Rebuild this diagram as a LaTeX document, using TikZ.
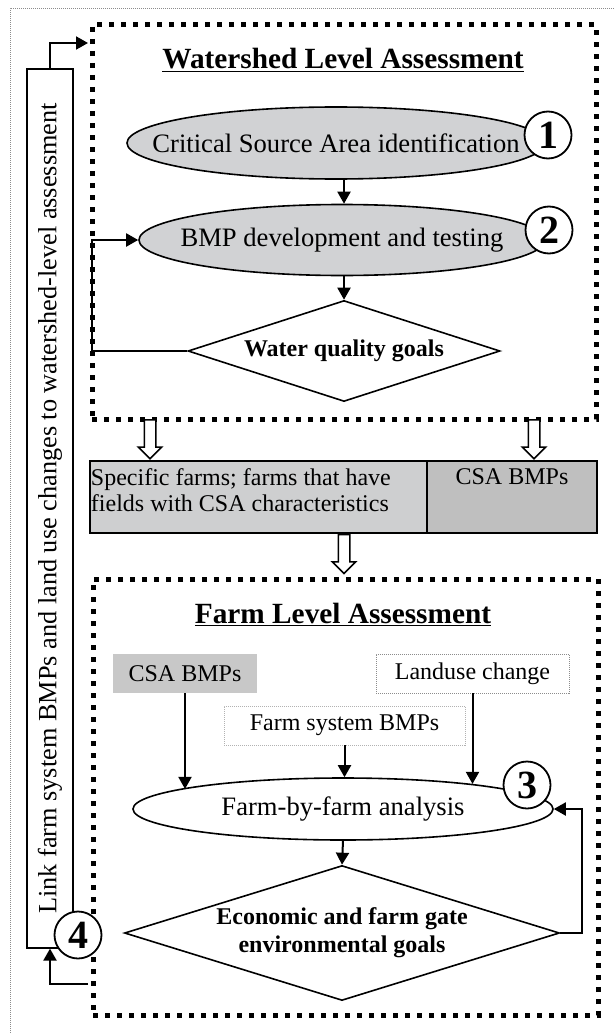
\documentclass[tikz,border=0pt]{standalone}
\usepackage{fontspec}
\setmainfont{Liberation Serif}
\usepackage{graphicx}
\usepackage{tikz}
\usetikzlibrary{arrows.meta,calc,shapes.geometric,shapes.arrows}
\definecolor{ellgray}{RGB}{209,210,212}
\definecolor{bandlight}{RGB}{206,207,208}
\definecolor{banddark}{RGB}{191,191,191}
\definecolor{csagray}{RGB}{200,200,200}

\begin{document}
\begin{tikzpicture}[x=1pt, y=-1pt,
  outer/.style={draw=black!45, line width=0.6pt, dash pattern=on 1pt off 1pt},
  level/.style={draw, line width=5pt, dash pattern=on 5pt off 7pt, inner sep=0pt, outer sep=0pt},
  oval/.style={ellipse, draw, line width=1.6pt, inner xsep=-60pt, inner ysep=0pt, font=\fontsize{26.6}{30}\selectfont},
  goal/.style={diamond, draw, line width=1.6pt, inner sep=0pt, align=center, font=\bfseries\fontsize{24}{28}\selectfont},
  num/.style={circle, draw, fill=white, line width=1.8pt, minimum size=47pt, inner sep=0pt, font=\bfseries\fontsize{40}{40}\selectfont},
  title/.style={font=\bfseries\fontsize{29.3}{34}\selectfont},
  inbox/.style={minimum height=39pt, inner sep=0pt, font=\fontsize{24}{28}\selectfont},
  celltext/.style={inner xsep=1.5pt, inner ysep=8pt, align=left, font=\fontsize{24}{26}\selectfont},
  cell/.style={draw, line width=1.5pt, minimum height=72pt, inner sep=0pt},
  linkbox/.style={draw, line width=1.2pt, minimum width=46pt, minimum height=879pt, inner sep=0pt, font=\fontsize{26.3}{30}\selectfont},
  arr/.style={-{Triangle[length=12pt, width=13pt]}, line width=2pt},
  hollow/.style={single arrow, draw, line width=1.5pt, fill=white, rotate=-90, anchor=tail, minimum height=39pt, minimum width=22pt, single arrow head extend=6pt, inner sep=5pt}]
\useasboundingbox (0,0) rectangle (615,1033);
\draw[outer] (10,1033) -- (10,8) -- (615,8);

% watershed level
\node[level, minimum width=504pt, minimum height=394pt] (ws) at (344,222) {};
\node[title] (wst) at (343,60) {\underline{Watershed Level Assessment}};
\node[oval, fill=ellgray, minimum width=418pt, minimum height=72pt] (csaid) at (336,143) {Critical Source Area identification};
\node[oval, fill=ellgray, minimum width=406pt, minimum height=71pt] (bmp) at (342,240) {BMP development and testing};
\node[goal, aspect=3.1, minimum width=312pt, minimum height=101pt] (wq) at (344,351) {Water quality goals};
\node[num] (n1) at (548,135) {1};
\node[num] (n2) at (549,230) {2};
\draw[arr] (csaid.south -| wq.north) -- (bmp.north -| wq.north);
\draw[arr] (bmp.south -| wq.north) -- (wq.north);
\draw[arr] (wq.west) -- ++(-95,0) |- (bmp.west);

% band between the levels
\node[cell, fill=bandlight, minimum width=337pt] (spec) at (258.5,497) {};
\node[cell, fill=banddark, minimum width=170pt] (cbmp) at (512,497) {};
\node[celltext, anchor=north west] (spect) at (spec.north west) {Specific farms; farms that have\\fields with CSA characteristics};
\node[celltext, anchor=north] (cbmpt) at (cbmp.north) {CSA BMPs};
\node[hollow] (h1) at ([xshift=58pt]ws.south west) {};
\node[hollow] (h2) at ([xshift=-62pt]ws.south east) {};
\node[hollow] (h3) at (spec.south -| wq.north) {};

% farm level
\node[level, minimum width=505pt, minimum height=436pt] (farm) at (345.5,797) {};
\node[title] (fmt) at (343,614) {\underline{Farm Level Assessment}};
\node[inbox, fill=csagray, minimum width=144pt] (csa) at (185,673.5) {CSA BMPs};
\node[inbox, outer, minimum width=193pt] (lu) at (472.5,673.5) {Landuse change};
\node[inbox, outer, draw=black!30, minimum width=241pt] (fsb) at (344.5,725.5) {Farm system BMPs};
\node[oval, minimum width=420pt, minimum height=62pt] (ana) at (343,809) {Farm-by-farm analysis};
\node[goal, aspect=3.2, minimum width=435pt, minimum height=135pt] (eco) at (342,933) {Economic and farm gate\\environmental goals};
\node[num] (n3) at (527,785) {3};
\draw[arr] (csa.south) -- (csa.south |- ana.173);
\draw[arr] (fsb.south) -- (fsb.south |- ana.north);
\draw[arr] (lu.south) -- (lu.south |- ana.11);
\draw[arr] (ana.south) -- (eco.north);
\draw[arr] (eco.east) -- ++(22,0) |- (ana.east);

% link back to the watershed
\node[linkbox] (link) at (50,508.5) {\rotatebox{90}{Link farm system BMPs and land use changes to watershed-level assessment}};
\draw[arr] (link.north) |- ([xshift=-4pt, yshift=-18pt]ws.north west);
\draw[arr] ([xshift=-5pt, yshift=31pt]farm.south west) -| (link.south);
\node[num] (n4) at (78,935) {4};
\end{tikzpicture}
\end{document}
